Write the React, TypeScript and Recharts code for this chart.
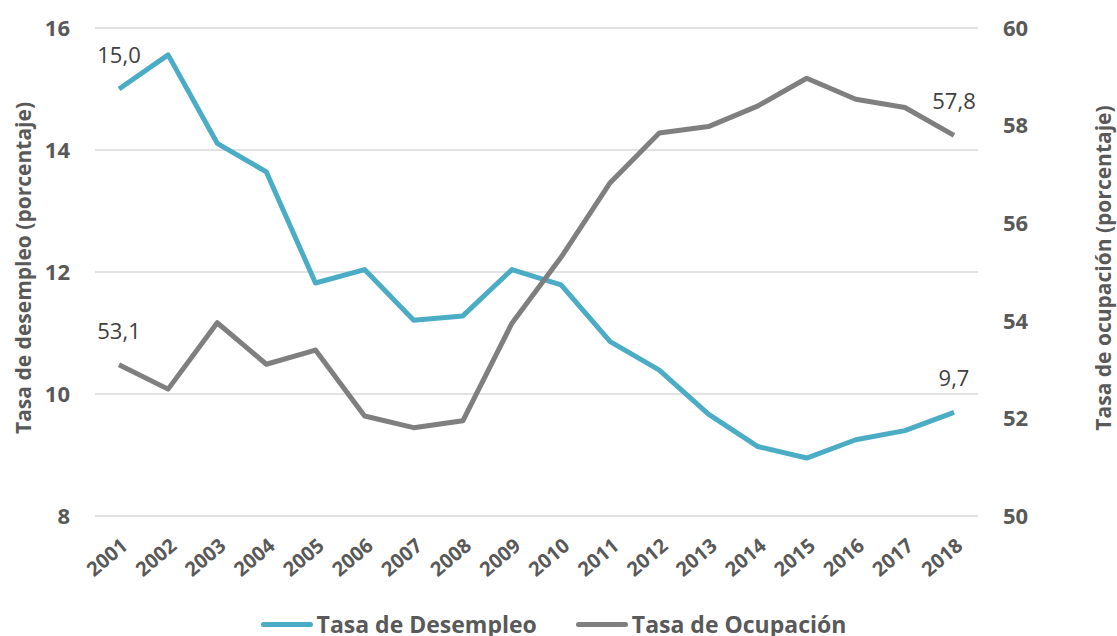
import { LineChart, Line, XAxis, YAxis, CartesianGrid, Legend, LabelList } from 'recharts'

const years = ['2001', '2002', '2003', '2004', '2005', '2006', '2007', '2008', '2009', '2010', '2011', '2012', '2013', '2014', '2015', '2016', '2017', '2018']
const desempleo = [15.0, 15.56, 14.11, 13.64, 11.82, 12.04, 11.21, 11.28, 12.04, 11.79, 10.86, 10.39, 9.67, 9.14, 8.95, 9.25, 9.4, 9.7]
const ocupacion = [53.1, 52.6, 53.96, 53.11, 53.4, 52.05, 51.81, 51.95, 53.95, 55.3, 56.83, 57.85, 57.98, 58.4, 58.97, 58.54, 58.37, 57.8]
const leftTicks = [8, 10, 12, 14, 16]
const rightTicks = [50, 52, 54, 56, 58, 60]

const data = years.map((y, i) => ({ year: y, desempleo: desempleo[i], ocupacion: ocupacion[i] }))

const BLUE = '#4BACC6'
const GRAY = '#7F7F7F'
const TXT = '#595959'
const FONT = '"Open Sans", sans-serif'

const fmt = (v: number) => v.toFixed(1).replace('.', ',')

// only first and last points carry a label
const EndLabel = (props: any) => {
    const { x, y, value, index } = props
    if (index !== 0 && index !== years.length - 1) return null
    return (
        <text x={x} y={y - 26} textAnchor="middle" fontSize={22} fill="#404040" fontFamily={FONT}>
            {fmt(value)}
        </text>
    )
}

const YearTick = (props: any) => {
    const { x, y, payload } = props
    const tx = x + 10
    const ty = y + 24
    return (
        <text
            x={tx}
            y={ty}
            textAnchor="end"
            fontSize={20}
            fontWeight="bold"
            fill={TXT}
            fontFamily={FONT}
            transform={`rotate(-40 ${tx} ${ty})`}
        >
            {payload.value}
        </text>
    )
}

const AxisTitle = (cx: number, text: string) => (props: any) => (
    <text
        x={cx}
        y={268}
        textAnchor="middle"
        dominantBaseline="central"
        fontSize={21}
        fontWeight="bold"
        fill={TXT}
        fontFamily={FONT}
        transform={`rotate(-90 ${cx} 268)`}
    >
        {text}
    </text>
)

const LegendContent = () => (
    <div style={{ display: 'flex', justifyContent: 'center', gap: '39px', fontFamily: FONT, fontWeight: 'bold', fontSize: '23px', color: TXT, paddingRight: '10px', paddingTop: '14px' }}>
        {[
            { color: BLUE, label: 'Tasa de Desempleo' },
            { color: GRAY, label: 'Tasa de Ocupación' },
        ].map((l, i) => (
            <div key={i} style={{ display: 'flex', alignItems: 'center', gap: '4px' }}>
                <div style={{ width: '52px', height: '5px', borderRadius: '3px', background: l.color }} />
                <span>{l.label}</span>
            </div>
        ))}
    </div>
)

export default function App() {
    return (
        <div style={{ position: 'absolute', left: 0, top: 0, width: 1117, height: 636, background: '#fff', overflow: 'hidden' }}>
            <LineChart width={1117} height={650} data={data} margin={{ top: 28, right: 0, bottom: 0, left: 0 }}>
                <CartesianGrid yAxisId="left" vertical={false} stroke="#D9D9D9" strokeWidth={1.5} />
                <XAxis
                    dataKey="year"
                    axisLine={false}
                    tickLine={false}
                    tick={<YearTick />}
                    height={78}
                    interval={0}
                    padding={{ left: 24, right: 24 }}
                />
                <YAxis
                    yAxisId="left"
                    domain={[8, 16]}
                    ticks={leftTicks}
                    width={95}
                    axisLine={false}
                    tickLine={false}
                    tickSize={0}
                    tickMargin={25}
                    tick={{ fontSize: 22, fontWeight: 'bold', fill: TXT, fontFamily: FONT }}
                    label={{ content: AxisTitle(23, 'Tasa de desempleo (porcentaje)') }}
                />
                <YAxis
                    yAxisId="right"
                    orientation="right"
                    domain={[50, 60]}
                    ticks={rightTicks}
                    width={139}
                    axisLine={false}
                    tickLine={false}
                    tickSize={0}
                    tickMargin={25}
                    tick={{ fontSize: 22, fontWeight: 'bold', fill: TXT, fontFamily: FONT }}
                    label={{ content: AxisTitle(1103, 'Tasa de ocupación (porcentaje)') }}
                />
                <Legend verticalAlign="bottom" height={56} content={<LegendContent />} />
                <Line yAxisId="left" type="linear" dataKey="desempleo" stroke={BLUE} strokeWidth={5} dot={false} isAnimationActive={false} strokeLinejoin="round">
                    <LabelList dataKey="desempleo" content={<EndLabel />} />
                </Line>
                <Line yAxisId="right" type="linear" dataKey="ocupacion" stroke={GRAY} strokeWidth={5} dot={false} isAnimationActive={false} strokeLinejoin="round">
                    <LabelList dataKey="ocupacion" content={<EndLabel />} />
                </Line>
            </LineChart>
        </div>
    )
}
